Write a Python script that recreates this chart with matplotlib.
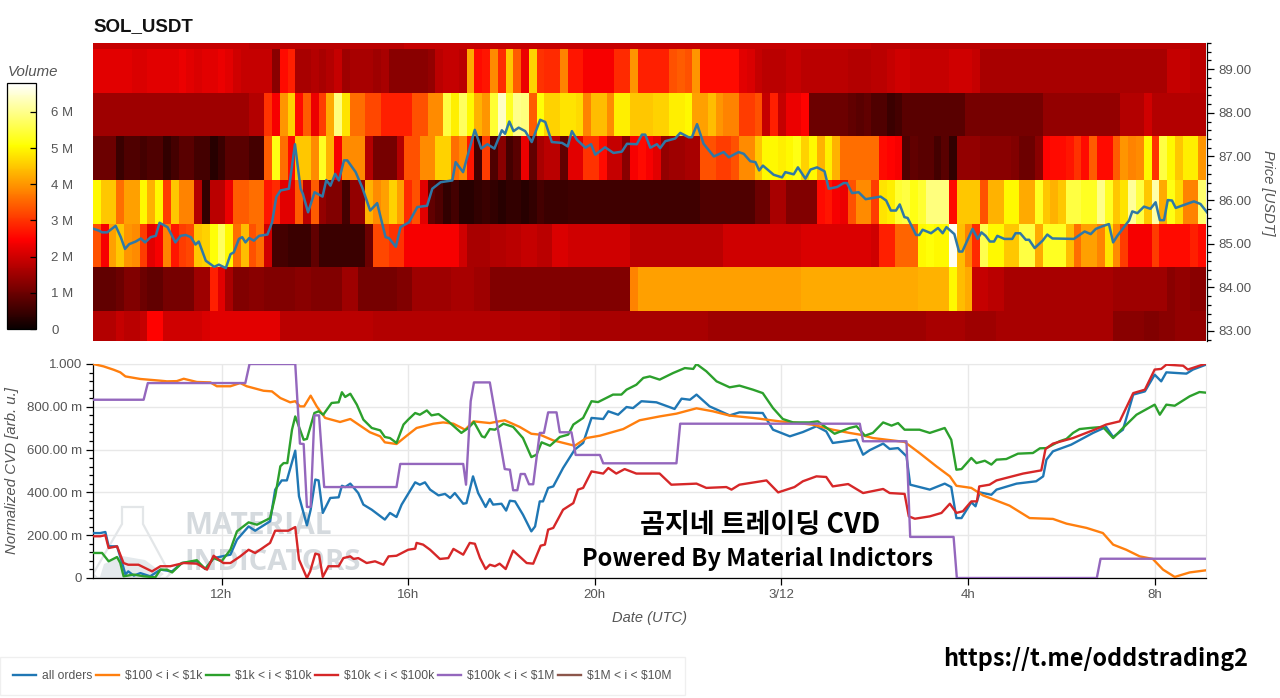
"""SOL_USDT: order book volume heatmap and normalized CVD by order size."""
import matplotlib
matplotlib.use('Agg')
import numpy as np
from matplotlib import pyplot as plt
from matplotlib.patches import Polygon
from matplotlib.ticker import FixedLocator, MultipleLocator

# ------------------------------------------------------------
# Heatmap: volume in millions, one row per price level, 10 minute columns
# ------------------------------------------------------------
price_edges = [82.77, 83.46, 84.46, 85.46, 86.46, 87.46, 88.46, 89.46, 89.6]

vol_83 = [
    1.7, 1.7, 1.7, 1.9, 1.8, 1.8, 1.9, 2.5, 2.5, 2.0, 2.0, 2.0, 2.0, 2.0, 2.1,
    2.2, 2.2, 2.2, 2.2, 2.2, 2.2, 2.2, 2.2, 2.2,
    1.8, 1.8, 1.8, 1.8, 1.8, 1.8, 1.8, 1.8, 1.8, 1.8, 1.8, 1.8,
    1.7, 1.7, 1.7, 1.7, 1.7, 1.7, 1.7, 1.7, 1.7, 1.7, 1.7, 1.7, 1.7, 1.7, 1.7,
    1.7, 1.7, 1.7, 1.7, 1.7, 1.7, 1.7, 1.7, 1.7,
    1.6, 1.6, 1.6, 1.6, 1.6, 1.6, 1.6, 1.6, 1.6, 1.6, 1.6, 1.6, 1.6, 1.6, 1.6, 1.6, 1.6, 1.6, 1.6,
    1.5, 1.5, 1.5, 1.5, 1.5, 1.5, 1.5, 1.5, 1.5, 1.5, 1.5, 1.5, 1.5, 1.5, 1.5, 1.5, 1.5, 1.5, 1.5, 1.5, 1.5, 1.5,
    1.5, 1.5, 1.5, 1.5, 1.5, 1.5, 1.6, 1.6, 1.6, 1.6, 1.6, 1.5, 1.5, 1.5, 1.5,
    1.6, 1.6, 1.6, 1.6, 1.6, 1.6, 1.6, 1.6, 1.6, 1.6, 1.6, 1.6, 1.6, 1.6, 1.6,
    1.3, 1.3, 1.3, 1.3, 1.2, 1.2, 1.3, 1.3,
    1.4, 1.4, 1.4, 1.4,
]
vol_84 = [
    0.9, 0.9, 0.9, 1.0, 1.2, 1.2, 1.0, 0.9, 0.9, 1.1, 1.1, 1.1, 1.1, 1.5, 1.5,
    2.8, 2.2, 1.6,
    1.2, 1.2, 1.3, 1.3, 1.2, 1.2, 1.2, 1.2, 1.3, 1.3, 1.2, 1.2, 1.2, 1.2,
    1.5, 1.5,
    1.1, 1.1, 1.1, 1.1, 1.1,
    1.2, 1.2,
    1.5, 1.5, 1.5, 1.5, 1.5, 1.6, 1.6, 1.6, 1.5, 1.5,
    1.2, 1.2, 1.2, 1.2, 1.2, 1.2, 1.2, 1.2, 1.2, 1.2, 1.2, 1.2, 1.2, 1.2, 1.2, 1.2, 1.2, 1.2,
    3.8,
    4.1, 4.1, 4.1, 4.1, 4.1, 4.1, 4.1, 4.1, 4.1, 4.1, 4.1, 4.1, 4.1, 4.1, 4.1,
    4.1, 4.1, 4.1, 4.1, 4.1, 4.1, 4.2, 4.2, 4.2, 4.2, 4.2, 4.2, 4.2, 4.2, 4.2, 4.2, 4.2,
    4.2, 4.2, 4.2, 4.2, 4.3, 4.3, 4.3, 4.3,
    5.0, 4.4, 4.2,
    1.9, 1.9, 1.8, 1.8, 1.6, 1.6, 1.6, 1.6,
    1.6, 1.6, 1.6, 1.6, 1.6, 1.6, 1.6, 1.6, 1.6, 1.6,
    1.5, 1.5, 1.5, 1.5, 1.5, 1.5, 1.5,
    1.3, 1.4, 1.4, 1.3, 1.3,
]
vol_85 = [
    3.3, 2.4, 4.1, 4.5, 4.0, 3.9, 3.1, 2.2, 2.4, 3.8, 2.7, 3.1, 3.2, 4.5, 4.6,
    5.1, 5.7, 5.0, 3.6, 4.4, 3.3, 3.6, 2.0,
    0.6, 0.6, 0.5, 0.5, 0.5, 0.9, 0.5, 0.5, 0.5, 0.5, 0.5, 0.5, 1.0,
    3.2, 3.2, 3.0, 3.0,
    2.4, 2.4, 2.4, 2.4, 2.4, 2.4, 2.4,
    2.0, 1.6, 1.6, 1.6,
    1.7, 1.7, 1.8, 1.8, 1.9, 1.9, 1.8, 1.8, 2.1, 2.1,
    2.0, 2.0, 2.0, 2.0, 2.0, 2.0, 2.0, 2.0,
    1.8, 1.8, 1.8, 1.8, 1.8, 1.8, 1.8, 1.8, 1.8, 1.8, 1.8, 1.8,
    2.0, 2.0, 2.0, 2.0, 2.0, 2.0, 2.0, 2.0, 2.0, 2.0,
    2.1, 2.1, 2.1, 2.1, 2.1, 2.1, 2.1, 2.1, 2.1, 2.0,
    2.8, 2.8,
    3.5, 3.5, 3.5,
    5.0, 5.1, 5.0, 5.0, 6.7, 4.4, 3.8, 2.9, 5.6, 5.0, 5.0, 4.5, 4.5, 5.5, 5.5,
    4.2, 5.3, 5.3, 5.3, 4.4, 3.6, 4.1, 4.1, 3.8, 4.8, 3.9, 3.1,
    2.4, 2.4, 2.4, 3.1, 2.6, 2.6, 2.6, 2.6, 2.8, 2.6,
]
vol_86 = [
    5.0, 4.5, 4.5, 3.6, 4.1, 4.1, 5.0, 4.3, 5.0, 3.1, 4.5, 3.8, 3.8, 1.7, 0.4,
    1.8, 1.8, 2.3, 3.4, 3.4, 3.6, 3.6, 2.7, 2.9, 2.2, 2.2, 3.4, 1.8, 3.4,
    1.4, 1.2, 1.2, 0.6, 1.4, 1.4,
    4.3, 3.9, 4.1, 4.6, 4.1, 2.9, 3.3, 2.2, 0.9, 0.7, 0.4, 0.6,
    0.3, 0.3, 0.4, 0.5,
    0.4, 0.3, 0.4, 0.4, 0.3, 0.4,
    0.6, 0.5, 0.5, 0.5,
    0.55, 0.55, 0.55, 0.55, 0.55, 0.55, 0.55, 0.55, 0.55, 0.55, 0.55, 0.55, 0.55, 0.55, 0.55, 0.55, 0.55,
    0.7, 0.7, 0.7, 0.7, 0.7, 0.7, 0.7,
    1.0, 1.0, 1.6, 1.6, 1.2, 1.2, 1.2, 1.2,
    2.6, 2.7, 2.4, 2.3, 3.3, 3.9, 3.9, 3.1,
    4.8, 4.9, 5.4, 5.5, 5.2, 5.4, 5.9, 5.9, 5.9,
    2.6, 4.5, 4.5, 4.5, 3.3, 4.3, 4.3, 5.0, 5.0, 4.2, 4.2, 5.3, 4.5, 4.3, 4.5,
    5.5, 5.5, 5.3, 5.3, 6.0, 5.3, 4.5, 4.8, 6.1, 5.5, 4.5, 6.2, 4.2, 5.2, 4.7,
    3.8, 3.8, 5.8,
]
vol_87 = [
    1.0, 1.0, 1.0, 0.5, 0.7, 0.7, 0.6, 0.7, 0.7, 0.4, 0.6, 0.8, 0.8, 0.6, 0.6,
    0.3, 0.5, 0.8, 0.8, 0.8, 0.6, 0.6,
    3.4, 5.2, 3.6, 2.6, 4.5, 4.5, 3.9, 5.3, 4.3, 2.4, 3.9, 3.9, 3.9,
    1.7, 1.1, 1.1, 1.1, 1.7, 3.3, 3.3, 3.9, 3.9, 4.6, 4.6, 3.6, 3.9, 2.7, 0.6, 3.1,
    0.7, 1.3, 0.6, 0.8, 2.3, 0.9, 1.6, 1.8, 1.8, 0.9, 2.2, 2.2, 3.0, 3.0, 2.6,
    1.9, 1.9, 1.3, 2.4, 2.6, 2.4, 2.2, 1.4, 1.5, 1.5, 1.6, 1.6,
    3.3, 3.3, 3.1, 3.1, 3.3, 3.9, 3.9, 4.5, 5.0, 5.0, 4.9, 5.0, 5.2, 4.6, 5.0,
    4.3, 4.9, 4.3, 3.6, 3.6, 3.6, 3.6, 3.6, 2.6,
    2.5, 2.4,
    0.7, 0.9, 0.8, 0.8, 0.6, 0.8, 0.4,
    1.4, 1.4, 1.4, 1.3, 1.3, 1.3, 1.3, 1.2, 1.0, 1.0, 1.3,
    2.5, 2.6, 2.6, 2.7, 3.0, 2.6, 3.4, 2.6, 2.6, 3.4, 4.0, 3.8, 3.9, 5.0, 3.0,
    5.5, 5.0, 4.5, 4.9, 4.9, 4.0,
]
vol_88 = [
    1.5, 1.5, 1.5, 1.5, 1.5, 1.5, 1.5, 1.5, 1.5, 1.5, 1.5, 1.5, 1.5, 1.5, 1.5,
    1.5, 1.5, 1.5, 1.5, 1.5, 1.7, 1.7,
    3.0, 2.4, 4.0, 4.6, 2.6, 3.4, 2.3, 3.1, 4.2, 5.9, 4.8, 3.6, 3.6,
    3.2, 3.2, 2.8, 2.8, 2.8, 2.8, 3.3, 3.3, 3.9, 3.9, 5.5, 4.9, 5.7, 5.0, 4.3, 4.0,
    5.4, 6.4, 5.3, 6.0, 5.9, 3.4, 5.1, 4.6, 4.6, 4.8, 4.8, 4.7, 3.8, 4.4, 4.4,
    3.9, 4.9, 4.9, 4.5, 4.5, 4.5, 4.6, 4.6, 4.9, 4.9, 5.0, 4.1, 4.1, 4.4, 4.0,
    3.8, 3.8, 3.1, 3.1, 3.3, 1.9, 2.8, 1.9, 2.3, 2.3, 2.5,
    1.0, 1.0, 1.0, 1.0, 1.0, 0.9, 0.8, 0.9, 0.7, 0.7,
    0.5, 0.6, 0.8, 0.8, 0.8, 0.8, 0.8, 0.8, 0.8, 0.8,
    1.1, 1.1, 1.1, 1.1, 1.1, 1.1, 1.1, 1.1, 1.1, 1.1,
    1.4, 1.4, 1.4, 1.4, 1.4, 1.4, 1.4, 1.4, 1.4, 1.4,
    1.7, 1.7, 1.7, 2.0, 1.7, 1.7, 1.7, 1.7, 1.7, 1.7, 1.7,
]
vol_89 = [
    2.2, 2.2, 2.2, 2.2, 2.2, 2.1, 2.1, 2.2, 2.2, 2.2, 2.2, 2.3, 2.2, 2.1, 2.2, 2.2, 2.3, 2.2,
    2.0, 1.9, 1.9, 1.9, 1.9,
    1.3, 2.6, 2.8,
    1.6, 1.6, 1.7, 1.6, 1.7, 1.9, 1.5, 1.6, 1.6, 1.6, 1.5, 1.6,
    1.3, 1.3, 1.3, 1.3, 1.3, 1.4,
    1.8, 1.9, 1.9, 1.8, 4.2, 2.6, 2.7,
    3.9, 2.9, 4.5, 3.4, 2.3, 4.6, 3.0, 2.9, 2.9, 3.8, 2.7, 2.7, 2.4, 2.4, 2.4, 2.4,
    2.9, 2.9, 4.0, 2.8, 2.8, 2.8, 2.8, 3.3, 3.4, 3.3, 4.0,
    2.6, 2.6, 2.6, 2.6, 2.6, 2.2, 2.1,
    1.9, 1.8, 1.8, 1.8, 1.9, 1.9, 1.8, 1.8, 1.8, 1.8, 1.8, 1.8, 1.7, 1.7, 1.7, 1.8, 1.8,
    1.9, 2.0, 2.0, 1.9, 1.9, 1.9, 1.9, 1.9, 2.0, 2.0, 2.0, 1.9,
    1.6, 1.6, 1.6, 1.6, 1.6, 1.6, 1.6, 1.6, 1.6, 1.6, 1.6, 1.6,
    1.6, 1.6, 1.6, 1.6, 1.6, 1.6, 1.6, 1.6, 1.6, 1.6, 1.6, 1.6,
    1.9, 1.9, 1.9, 1.8, 1.8,
]
# thin strip on top of the heatmap, almost constant
vol_90 = [
    1.9, 1.9, 1.9, 1.9, 1.9, 1.9, 1.9, 1.9, 1.9, 1.9, 1.9, 1.9, 1.9, 1.9, 1.9, 1.9, 1.9, 1.9, 1.9, 1.9,
    1.8, 1.8, 1.8, 1.8, 1.8, 1.8, 1.8, 1.8, 1.8, 1.8, 1.8, 1.8, 1.8, 1.8, 1.8, 1.8, 1.8, 1.8, 1.8, 1.8,
    1.9, 1.9, 1.9, 1.9, 1.9, 1.9, 1.9, 1.9, 1.9, 1.9, 1.9, 1.9, 1.9, 1.9, 1.9, 1.9, 1.9, 1.9, 1.9, 1.9,
    1.9, 1.9, 1.9, 1.9, 1.9, 1.9, 1.9, 1.9, 1.9, 1.9, 1.9, 1.9, 1.9, 1.9, 1.9, 1.9, 1.9, 1.9, 1.9, 1.9,
    1.9, 1.9, 1.9, 1.9, 1.9, 1.9, 1.9, 1.9, 1.9, 1.9, 1.9, 1.9, 1.9, 1.9, 1.9, 1.9, 1.9, 1.9, 1.9, 1.9,
    1.8, 1.8, 1.8, 1.8, 1.8, 1.8, 1.8, 1.8, 1.8, 1.8, 1.8, 1.8, 1.8, 1.8, 1.8, 1.8, 1.8, 1.8, 1.8, 1.8,
    1.8, 1.8, 1.8, 1.8, 1.8, 1.8, 1.8, 1.8, 1.8, 1.8, 1.8, 1.8, 1.8, 1.8, 1.8, 1.8, 1.8, 1.8, 1.8, 1.8,
    1.8, 1.8, 1.8,
]

# ------------------------------------------------------------
# Price line, hours since 3/11 00:00
# ------------------------------------------------------------
price_t = [
    9.26, 9.37, 9.44, 9.55, 9.73, 9.84, 9.93, 10.02, 10.16, 10.27, 10.36, 10.48, 10.59, 10.67, 10.84, 11.01,
    11.12, 11.23, 11.34, 11.44, 11.51, 11.66, 11.84, 11.94, 12.09, 12.19, 12.26, 12.37, 12.44, 12.51, 12.59,
    12.69, 12.8, 12.98, 13.08, 13.17, 13.26, 13.44, 13.57, 13.69, 13.74, 13.85, 13.99, 14.16, 14.24, 14.33,
    14.43, 14.51, 14.62, 14.69, 14.87, 15.01, 15.18, 15.33, 15.51, 15.58, 15.73, 15.83, 16.01, 16.19, 16.4,
    16.51, 16.69, 16.94, 17.01, 17.17, 17.42, 17.56, 17.69, 17.84, 18.0, 18.07, 18.16, 18.25, 18.36, 18.5,
    18.64, 18.82, 18.93, 19.07, 19.29, 19.41, 19.5, 19.61, 19.79, 19.91, 20.0, 20.21, 20.39, 20.57, 20.68,
    20.89, 21.0, 21.07, 21.18, 21.32, 21.39, 21.5, 21.71, 21.82, 22.0, 22.07, 22.18, 22.32, 22.54, 22.75,
    22.86, 23.07, 23.18, 23.32, 23.43, 23.51, 23.59, 23.82, 24.0, 24.07, 24.25, 24.34, 24.5, 24.61, 24.75,
    24.91, 25.0, 25.18, 25.32, 25.39, 25.5, 25.64, 25.79, 26.11, 26.23, 26.33, 26.44, 26.52, 26.62, 26.69,
    26.87, 26.94, 27.01, 27.19, 27.34, 27.44, 27.52, 27.69, 27.79, 27.86, 28.08, 28.19, 28.27, 28.36, 28.45,
    28.54, 28.61, 28.76, 28.93, 29.0, 29.1, 29.22, 29.29, 29.41, 29.58, 29.68, 29.79, 30.25, 30.48, 30.61,
    30.72, 30.86, 31.0, 31.09, 31.18, 31.43, 31.5, 31.61, 31.75, 31.89, 32.0, 32.09, 32.18, 32.26, 32.35,
    32.43, 32.82, 32.96, 33.1,
]
price_usdt = [
    85.34, 85.3, 85.26, 85.26, 85.41, 85.15, 84.88, 84.99, 85.05, 85.12, 85.03, 85.15, 85.18, 85.48, 85.38, 85.03,
    85.18, 85.2, 85.15, 84.98, 85.05, 84.61, 84.47, 84.52, 84.44, 84.76, 84.8, 85.11, 85.15, 85.03, 85.13,
    85.07, 85.18, 85.21, 85.49, 86.07, 86.22, 86.26, 87.28, 86.26, 86.14, 85.72, 86.18, 86.08, 86.46, 86.33,
    86.6, 86.45, 86.91, 86.91, 86.64, 86.29, 85.76, 85.93, 85.15, 85.13, 84.93, 85.38, 85.49, 85.84, 85.87,
    86.26, 86.41, 86.45, 86.87, 86.64, 87.61, 87.18, 87.28, 87.18, 87.6, 87.52, 87.8, 87.58, 87.66, 87.58,
    87.33, 87.84, 87.79, 87.33, 87.31, 87.23, 87.58, 87.38, 87.2, 87.28, 87.04, 87.21, 87.08, 87.11, 87.29,
    87.28, 87.5, 87.5, 87.2, 87.28, 87.19, 87.35, 87.41, 87.54, 87.44, 87.44, 87.74, 87.29, 87.0, 87.1,
    86.98, 87.1, 87.06, 86.89, 86.87, 86.68, 86.79, 86.58, 86.52, 86.64, 86.59, 86.75, 86.49, 86.7, 86.75,
    86.66, 86.26, 86.3, 86.39, 86.39, 86.16, 86.18, 86.02, 86.08, 85.99, 85.76, 85.76, 85.9, 85.61, 85.59,
    85.2, 85.2, 85.32, 85.24, 85.36, 85.24, 85.38, 85.22, 84.82, 84.82, 85.34, 85.11, 85.26, 85.18, 85.05,
    85.05, 85.18, 85.11, 85.11, 85.24, 85.24, 85.09, 85.09, 84.9, 85.07, 85.21, 85.12, 85.11, 85.28, 85.22,
    85.34, 85.4, 85.45, 85.03, 85.18, 85.53, 85.74, 85.7, 85.85, 85.8, 85.95, 85.54, 85.54, 86.0, 85.99,
    85.82, 85.97, 85.91, 85.72,
]

# ------------------------------------------------------------
# Normalized CVD per order size
# ------------------------------------------------------------
all_t = [
    9.25, 9.4, 9.51, 9.58, 9.76, 9.87, 9.94, 10.0, 10.12, 10.26, 10.47, 10.69, 10.94, 11.15, 11.47, 11.65,
    11.83, 12.19, 12.33, 12.58, 12.72, 13.04, 13.15, 13.29, 13.4, 13.58, 13.66, 13.83, 13.91, 14.01, 14.08,
    14.17, 14.33, 14.51, 14.58, 14.65, 14.76, 14.93, 15.04, 15.22, 15.5, 15.61, 15.75, 15.86, 16.15, 16.25,
    16.36, 16.47, 16.65, 16.79, 16.9, 17.0, 17.18, 17.25, 17.39, 17.5, 17.66, 17.75, 17.82, 18.0, 18.1, 18.18,
    18.29, 18.46, 18.64, 18.72, 18.82, 18.89, 19.0, 19.11, 19.32, 19.57, 19.75, 19.93, 20.18, 20.29, 20.5,
    20.68, 20.82, 21.0, 21.32, 21.71, 21.86, 22.04, 22.18, 22.46, 22.89, 23.1, 23.6, 23.82, 24.18, 24.46,
    24.75, 24.96, 25.1, 25.61, 25.75, 25.89, 26.18, 26.32, 26.5, 26.68, 26.76, 26.96, 27.18, 27.5, 27.64,
    27.75, 27.86, 28.07, 28.16, 28.25, 28.5, 28.61, 29.04, 29.46, 29.61, 29.68, 29.82, 30.21, 30.68, 30.96,
    31.11, 31.32, 31.54, 31.79, 32.0, 32.14, 32.25, 32.68, 32.82, 33.1,
]
all_cvd = [
    0.21, 0.21, 0.215, 0.148, 0.148, 0.07, 0.016, 0.031, 0.011, 0.023, 0.008, 0.039, 0.031, 0.07, 0.078, 0.042,
    0.093, 0.109, 0.179, 0.241, 0.221, 0.265, 0.413, 0.456, 0.456, 0.595, 0.382, 0.246, 0.319, 0.46, 0.456,
    0.304, 0.374, 0.377, 0.431, 0.425, 0.441, 0.397, 0.343, 0.319, 0.273, 0.304, 0.285, 0.343, 0.447, 0.436,
    0.447, 0.413, 0.386, 0.393, 0.374, 0.397, 0.347, 0.35, 0.475, 0.397, 0.332, 0.369, 0.343, 0.347, 0.315, 0.361,
    0.358, 0.296, 0.218, 0.241, 0.358, 0.358, 0.421, 0.428, 0.514, 0.6, 0.631, 0.748, 0.743, 0.779, 0.763,
    0.799, 0.794, 0.826, 0.821, 0.79, 0.838, 0.833, 0.857, 0.802, 0.76, 0.774, 0.771, 0.693, 0.662, 0.682,
    0.709, 0.685, 0.631, 0.646, 0.576, 0.597, 0.628, 0.603, 0.607, 0.569, 0.436, 0.425, 0.413, 0.441, 0.425,
    0.28, 0.28, 0.354, 0.335, 0.4, 0.389, 0.413, 0.441, 0.452, 0.475, 0.553, 0.592, 0.623, 0.678, 0.706,
    0.659, 0.693, 0.857, 0.872, 0.95, 0.919, 0.961, 0.955, 0.974, 0.997,
]

small_t = [
    9.25, 9.47, 9.69, 9.83, 9.94, 10.26, 10.69, 10.83, 11.04, 11.19, 11.47, 11.76, 11.9, 12.19, 12.4, 12.54,
    12.9, 13.08, 13.26, 13.47, 13.58, 13.68, 13.77, 13.91, 14.04, 14.22, 14.54, 14.76, 14.97, 15.18, 15.4,
    15.5, 15.75, 15.97, 16.18, 16.54, 16.75, 16.97, 17.22, 17.4, 17.75, 18.07, 18.39, 18.64, 18.82, 19.11,
    19.57, 19.82, 20.11, 20.61, 20.96, 21.39, 21.75, 22.18, 22.53, 22.89, 23.39, 23.96, 24.25, 24.68, 25.1,
    25.46, 25.68, 25.96, 26.64, 26.96, 27.32, 27.61, 27.75, 28.07, 28.32, 28.89, 29.32, 29.82, 30.11, 30.54,
    30.89, 31.11, 31.39, 31.68, 31.96, 32.18, 32.43, 32.75, 33.1,
]
small_cvd = [
    1.0, 0.989, 0.973, 0.961, 0.942, 0.93, 0.922, 0.919, 0.92, 0.931, 0.916, 0.914, 0.896, 0.896, 0.911, 0.896,
    0.875, 0.872, 0.841, 0.821, 0.826, 0.802, 0.802, 0.852, 0.802, 0.748, 0.729, 0.743, 0.712, 0.681, 0.662,
    0.634, 0.626, 0.665, 0.701, 0.721, 0.727, 0.721, 0.693, 0.732, 0.724, 0.737, 0.706, 0.674, 0.67, 0.643,
    0.618, 0.654, 0.665, 0.696, 0.737, 0.755, 0.768, 0.793, 0.779, 0.759, 0.748, 0.732, 0.727, 0.716, 0.693,
    0.678, 0.67, 0.654, 0.636, 0.584, 0.522, 0.475, 0.431, 0.421, 0.386, 0.338, 0.28, 0.276, 0.254, 0.234,
    0.21, 0.156, 0.132, 0.101, 0.089, 0.039, 0.005, 0.026, 0.036,
]

mid_t = [
    9.25, 9.44, 9.58, 9.76, 9.83, 9.9, 10.12, 10.33, 10.58, 10.69, 10.83, 10.94, 11.15, 11.47, 11.65, 11.83,
    12.0, 12.19, 12.33, 12.58, 12.76, 13.04, 13.15, 13.26, 13.33, 13.41, 13.51, 13.58, 13.76, 13.83, 13.99,
    14.08, 14.18, 14.36, 14.51, 14.58, 14.65, 14.76, 14.9, 15.04, 15.22, 15.4, 15.5, 15.61, 15.75, 15.9, 16.0,
    16.15, 16.25, 16.4, 16.5, 16.65, 16.86, 17.14, 17.29, 17.41, 17.58, 17.64, 17.75, 17.86, 18.04, 18.25,
    18.46, 18.64, 18.75, 18.86, 19.04, 19.25, 19.43, 19.54, 19.75, 19.93, 20.07, 20.39, 20.57, 20.68, 20.89,
    21.04, 21.18, 21.39, 21.68, 21.93, 22.11, 22.18, 22.39, 22.61, 22.89, 23.1, 23.39, 23.6, 23.82, 24.03,
    24.25, 24.6, 24.78, 25.14, 25.46, 25.61, 25.79, 25.96, 26.18, 26.36, 26.5, 26.64, 26.96, 27.18, 27.5,
    27.64, 27.75, 27.86, 28.07, 28.18, 28.36, 28.5, 28.61, 28.82, 29.07, 29.39, 29.54, 29.68, 29.96, 30.11,
    30.25, 30.39, 30.61, 30.89, 31.11, 31.32, 31.61, 32.0, 32.11, 32.25, 32.43, 32.75, 32.96, 33.1,
]
mid_cvd = [
    0.117, 0.117, 0.078, 0.098, 0.07, 0.008, 0.016, 0.008, 0.003, 0.039, 0.039, 0.026, 0.07, 0.083, 0.042, 0.093,
    0.078, 0.132, 0.218, 0.26, 0.249, 0.28, 0.382, 0.522, 0.537, 0.537, 0.693, 0.755, 0.646, 0.65, 0.771,
    0.779, 0.763, 0.818, 0.821, 0.868, 0.846, 0.861, 0.81, 0.74, 0.701, 0.69, 0.659, 0.654, 0.631, 0.717, 0.74,
    0.771, 0.763, 0.783, 0.76, 0.766, 0.732, 0.678, 0.701, 0.729, 0.662, 0.657, 0.696, 0.693, 0.721, 0.706,
    0.654, 0.565, 0.576, 0.634, 0.618, 0.659, 0.67, 0.717, 0.748, 0.826, 0.822, 0.857, 0.857, 0.88, 0.903,
    0.935, 0.942, 0.927, 0.958, 0.981, 0.977, 1.0, 0.966, 0.919, 0.891, 0.899, 0.88, 0.864, 0.794, 0.743,
    0.727, 0.727, 0.732, 0.674, 0.701, 0.709, 0.665, 0.678, 0.727, 0.712, 0.724, 0.693, 0.693, 0.678, 0.701,
    0.646, 0.506, 0.509, 0.561, 0.537, 0.548, 0.53, 0.553, 0.556, 0.581, 0.584, 0.606, 0.607, 0.639, 0.65,
    0.678, 0.696, 0.701, 0.706, 0.654, 0.701, 0.763, 0.81, 0.763, 0.81, 0.805, 0.849, 0.869, 0.866,
]

large_t = [
    9.25, 9.4, 9.51, 9.58, 9.76, 9.9, 10.0, 10.22, 10.51, 10.69, 10.9, 11.19, 11.47, 11.69, 11.83, 12.04,
    12.19, 12.4, 12.58, 12.72, 12.86, 13.04, 13.15, 13.43, 13.58, 13.66, 13.83, 13.9, 14.01, 14.09, 14.17,
    14.29, 14.51, 14.61, 14.76, 14.83, 14.93, 15.11, 15.29, 15.47, 15.58, 15.75, 16.0, 16.15, 16.18, 16.32,
    16.47, 16.68, 16.86, 16.97, 17.18, 17.32, 17.43, 17.54, 17.66, 17.75, 17.86, 17.96, 18.09, 18.25, 18.54,
    18.68, 18.84, 18.93, 19.0, 19.11, 19.32, 19.54, 19.64, 19.75, 19.93, 20.18, 20.29, 20.46, 20.64, 20.89,
    21.39, 21.64, 22.18, 22.39, 22.82, 22.93, 23.1, 23.68, 23.93, 24.28, 24.46, 24.75, 24.96, 25.1, 25.43,
    25.75, 26.18, 26.32, 26.64, 26.73, 26.86, 27.18, 27.43, 27.61, 27.75, 27.89, 28.07, 28.19, 28.24, 28.46,
    28.61, 29.18, 29.36, 29.57, 29.66, 29.82, 30.25, 30.71, 30.96, 31.25, 31.54, 31.79, 32.0, 32.14, 32.25,
    32.61, 32.71, 33.07, 33.1,
]
large_cvd = [
    0.195, 0.195, 0.2, 0.14, 0.148, 0.07, 0.062, 0.062, 0.031, 0.055, 0.055, 0.07, 0.067, 0.039, 0.104, 0.07,
    0.07, 0.101, 0.132, 0.117, 0.137, 0.164, 0.221, 0.221, 0.238, 0.086, 0.0, 0.031, 0.114, 0.109, 0.005,
    0.055, 0.055, 0.093, 0.101, 0.089, 0.093, 0.07, 0.078, 0.062, 0.101, 0.104, 0.132, 0.137, 0.164, 0.156,
    0.132, 0.089, 0.093, 0.136, 0.109, 0.164, 0.16, 0.093, 0.042, 0.062, 0.055, 0.067, 0.042, 0.128, 0.07,
    0.067, 0.151, 0.156, 0.226, 0.234, 0.319, 0.35, 0.413, 0.421, 0.498, 0.488, 0.514, 0.488, 0.509, 0.488,
    0.488, 0.436, 0.441, 0.421, 0.425, 0.413, 0.436, 0.456, 0.4, 0.425, 0.452, 0.475, 0.472, 0.428, 0.439,
    0.397, 0.416, 0.397, 0.393, 0.288, 0.277, 0.288, 0.304, 0.347, 0.304, 0.312, 0.358, 0.358, 0.428, 0.436,
    0.456, 0.488, 0.495, 0.503, 0.603, 0.628, 0.654, 0.693, 0.717, 0.732, 0.864, 0.88, 0.974, 0.977, 0.997,
    0.992, 0.974, 1.0, 1.0,
]

whale_t = [
    9.25, 10.33, 10.42, 12.51, 12.6, 13.58, 13.65, 13.68, 13.76, 13.83, 13.91, 13.99, 14.09, 14.2, 15.75, 15.83,
    17.18, 17.24, 17.34, 17.41, 17.75, 18.07, 18.18, 18.25, 18.34, 18.41, 18.5, 18.59, 18.68, 18.82, 18.91,
    19.0, 19.18, 19.25, 19.5, 19.59, 20.11, 20.18, 21.75, 21.83, 25.68, 25.75, 26.68, 26.76, 27.69, 27.76,
    30.76, 30.84, 33.1,
]
whale_cvd = [
    0.833, 0.833, 0.911, 0.911, 1.0, 1.0, 0.74, 0.628, 0.626, 0.332, 0.332, 0.76, 0.76, 0.425, 0.425, 0.533,
    0.533, 0.436, 0.826, 0.914, 0.914, 0.509, 0.506, 0.41, 0.41, 0.486, 0.486, 0.438, 0.438, 0.678, 0.678,
    0.774, 0.774, 0.681, 0.681, 0.575, 0.575, 0.536, 0.536, 0.721, 0.721, 0.639, 0.639, 0.192, 0.192, 0.0,
    0.0, 0.09, 0.09,
]

# dollar signs escaped, otherwise matplotlib reads them as mathtext
series_labels = ['all orders', r'\$100 < i < \$1k', r'\$1k < i < \$10k', r'\$10k < i < \$100k',
                 r'\$100k < i < \$1M', r'\$1M < i < \$10M']
series_colors = ['#1f77b4', '#ff7f0e', '#2ca02c', '#d62728', '#9467bd', '#8c564b']

time_ticks = [12, 16, 20, 24, 28, 32]
time_labels = ['12h', '16h', '20h', '3/12', '4h', '8h']
cvd_ticks = [0, 0.2, 0.4, 0.6, 0.8, 1.0]
cvd_labels = ['0', '200.00 m', '400.00 m', '600.00 m', '800.00 m', '1.000']
price_ticks = [83, 84, 85, 86, 87, 88, 89]
volume_ticks = [0, 1, 2, 3, 4, 5, 6]
volume_labels = ['0', '1 M', '2 M', '3 M', '4 M', '5 M', '6 M']

plt.rcParams['font.family'] = ['Liberation Sans', 'DejaVu Sans']
W, H = 1280, 698
TICK_GREY = '#555555'


def px_axes(fig, left, top, right, bottom):
    """Axes placed by pixel box of the 1280x698 canvas."""
    return fig.add_axes([left / W, 1 - bottom / H, (right - left) / W, (bottom - top) / H])


fig = plt.figure(figsize=(W / 100, H / 100), dpi=100)

# ------------------------------------------------------------
# Heatmap
# ------------------------------------------------------------
ax_heat = px_axes(fig, 93, 43, 1207, 341)
rows = [vol_83, vol_84, vol_85, vol_86, vol_87, vol_88, vol_89, vol_90]
assert len(set(map(len, rows))) == 1, [len(r) for r in rows]
volume = np.array(rows)
time_edges = 9.245 + np.arange(volume.shape[1] + 1) / 6
mesh = ax_heat.pcolormesh(time_edges, price_edges, volume, cmap='hot', vmin=0, vmax=6.8,
                          shading='flat', rasterized=True)
ax_heat.plot(price_t, price_usdt, color='#2f78a6', lw=1.8)
ax_heat.set_xlim(9.245, 33.1)
ax_heat.set_ylim(82.77, 89.6)
ax_heat.set_xticks([])
ax_heat.yaxis.tick_right()
ax_heat.yaxis.set_major_locator(FixedLocator(price_ticks))
ax_heat.yaxis.set_minor_locator(MultipleLocator(0.2))
ax_heat.set_yticklabels([f'{p:.2f}' for p in price_ticks])
ax_heat.tick_params(axis='y', which='major', length=5, width=0.9, labelsize=9.5, labelcolor=TICK_GREY, pad=3)
ax_heat.tick_params(axis='y', which='minor', length=3, width=0.9)
for side in ['top', 'left', 'bottom']:
    ax_heat.spines[side].set_visible(False)
ax_heat.spines['right'].set_linewidth(0.9)
fig.text(93 / W, 1 - 27 / H, 'SOL_USDT', fontsize=13.5, fontweight='bold', va='center', ha='left', color='#111111')
fig.text(1268 / W, 1 - 193 / H, 'Price [USDT]', fontsize=10.5, style='italic', rotation=-90,
         va='center', ha='center', color=TICK_GREY)

# ------------------------------------------------------------
# Colorbar
# ------------------------------------------------------------
ax_bar = px_axes(fig, 7, 83, 36, 329)
cbar = fig.colorbar(mesh, cax=ax_bar)
cbar.set_ticks(volume_ticks)
cbar.set_ticklabels(volume_labels)
ax_bar.tick_params(axis='y', which='major', direction='in', length=4, width=0.9, labelsize=9.5,
                   labelcolor=TICK_GREY, pad=11)
cbar.outline.set_linewidth(0.9)
fig.text(33 / W, 1 - 72 / H, 'Volume', fontsize=10.8, style='italic', va='center', ha='center', color=TICK_GREY)

# ------------------------------------------------------------
# CVD lines
# ------------------------------------------------------------
ax_cvd = px_axes(fig, 93, 364, 1206, 578)

# watermark behind the lines
flask_px = [(122, 507), (143, 507), (143, 524), (170, 574), (166, 578), (97, 578), (93, 574), (122, 524)]
blob_px = [(104, 564), (122, 556), (145, 560), (164, 574), (160, 577), (100, 577)]
ax_cvd.add_patch(Polygon([(x / W, 1 - y / H) for x, y in flask_px], closed=True, transform=fig.transFigure,
                         fill=False, edgecolor='#e3e6e8', lw=1.6, zorder=1))
ax_cvd.add_patch(Polygon([(x / W, 1 - y / H) for x, y in blob_px], closed=True, transform=fig.transFigure,
                         facecolor='#e4e9ec', edgecolor='none', zorder=1))
ax_cvd.text(184 / W, 1 - 526 / H, 'MATERIAL', transform=fig.transFigure, fontsize=21.5, fontweight='bold',
            family='Open Sans', color='#d5dade', va='center', ha='left', zorder=1)
ax_cvd.text(184 / W, 1 - 562 / H, 'INDICATORS', transform=fig.transFigure, fontsize=21, fontweight='bold',
            family='Open Sans', color='#d5dade', va='center', ha='left', zorder=1)

ax_cvd.plot(all_t, all_cvd, color=series_colors[0], lw=1.7, label=series_labels[0], zorder=3)
ax_cvd.plot(small_t, small_cvd, color=series_colors[1], lw=1.7, label=series_labels[1], zorder=3)
ax_cvd.plot(mid_t, mid_cvd, color=series_colors[2], lw=1.7, label=series_labels[2], zorder=3)
ax_cvd.plot(large_t, large_cvd, color=series_colors[3], lw=1.7, label=series_labels[3], zorder=3)
ax_cvd.plot(whale_t, whale_cvd, color=series_colors[4], lw=1.7, label=series_labels[4], zorder=3)
ax_cvd.plot([], [], color=series_colors[5], lw=1.7, label=series_labels[5])  # no data in range

ax_cvd.set_xlim(9.245, 33.1)
ax_cvd.set_ylim(0, 1)
ax_cvd.xaxis.set_major_locator(FixedLocator(time_ticks))
ax_cvd.set_xticklabels(time_labels)
ax_cvd.yaxis.set_major_locator(FixedLocator(cvd_ticks))
ax_cvd.set_yticklabels(cvd_labels)
ax_cvd.yaxis.set_minor_locator(MultipleLocator(0.04))
ax_cvd.tick_params(axis='both', which='major', length=5, width=0.9, labelsize=9.5, labelcolor=TICK_GREY, pad=3)
ax_cvd.tick_params(axis='y', which='minor', length=3, width=0.9)
ax_cvd.grid(True, which='major', color='#e8e8e8', lw=1.0, zorder=0)
ax_cvd.set_axisbelow(True)
ax_cvd.spines['top'].set_color('#e8e8e8')
ax_cvd.spines['right'].set_color('#e8e8e8')
ax_cvd.spines['left'].set_linewidth(0.9)
ax_cvd.spines['bottom'].set_linewidth(0.9)

fig.text(650 / W, 1 - 618 / H, 'Date (UTC)', fontsize=10.5, style='italic', va='center', ha='center', color=TICK_GREY)
fig.text(12 / W, 1 - 471 / H, 'Normalized CVD [arb. u.]', fontsize=10.8, style='italic', rotation=90,
         va='center', ha='center', color=TICK_GREY)

# ------------------------------------------------------------
# Overlay text and legend
# ------------------------------------------------------------
for x, y, label, size in [(760, 525, '곰지네 트레이딩 CVD', 19.5),
                          (757, 559, 'Powered By Material Indictors', 17),
                          (1096, 659, 'https://t.me/oddstrading2', 16.8)]:
    fig.text(x / W, 1 - y / H, label, fontsize=size, fontweight='bold', family=['Noto Sans CJK KR', 'DejaVu Sans'],
             va='center', ha='center', color='black', zorder=10)

fig.legend(loc='center left', bbox_to_anchor=(0, 1 - 676 / H), ncol=6, frameon=True, fancybox=False,
           edgecolor='#ececec', fontsize=8.7, labelcolor=TICK_GREY, handlelength=1.85, handletextpad=0.55,
           columnspacing=0.3, borderpad=1.1, borderaxespad=0)

plt.savefig('out.png', dpi=100)
plt.close()
